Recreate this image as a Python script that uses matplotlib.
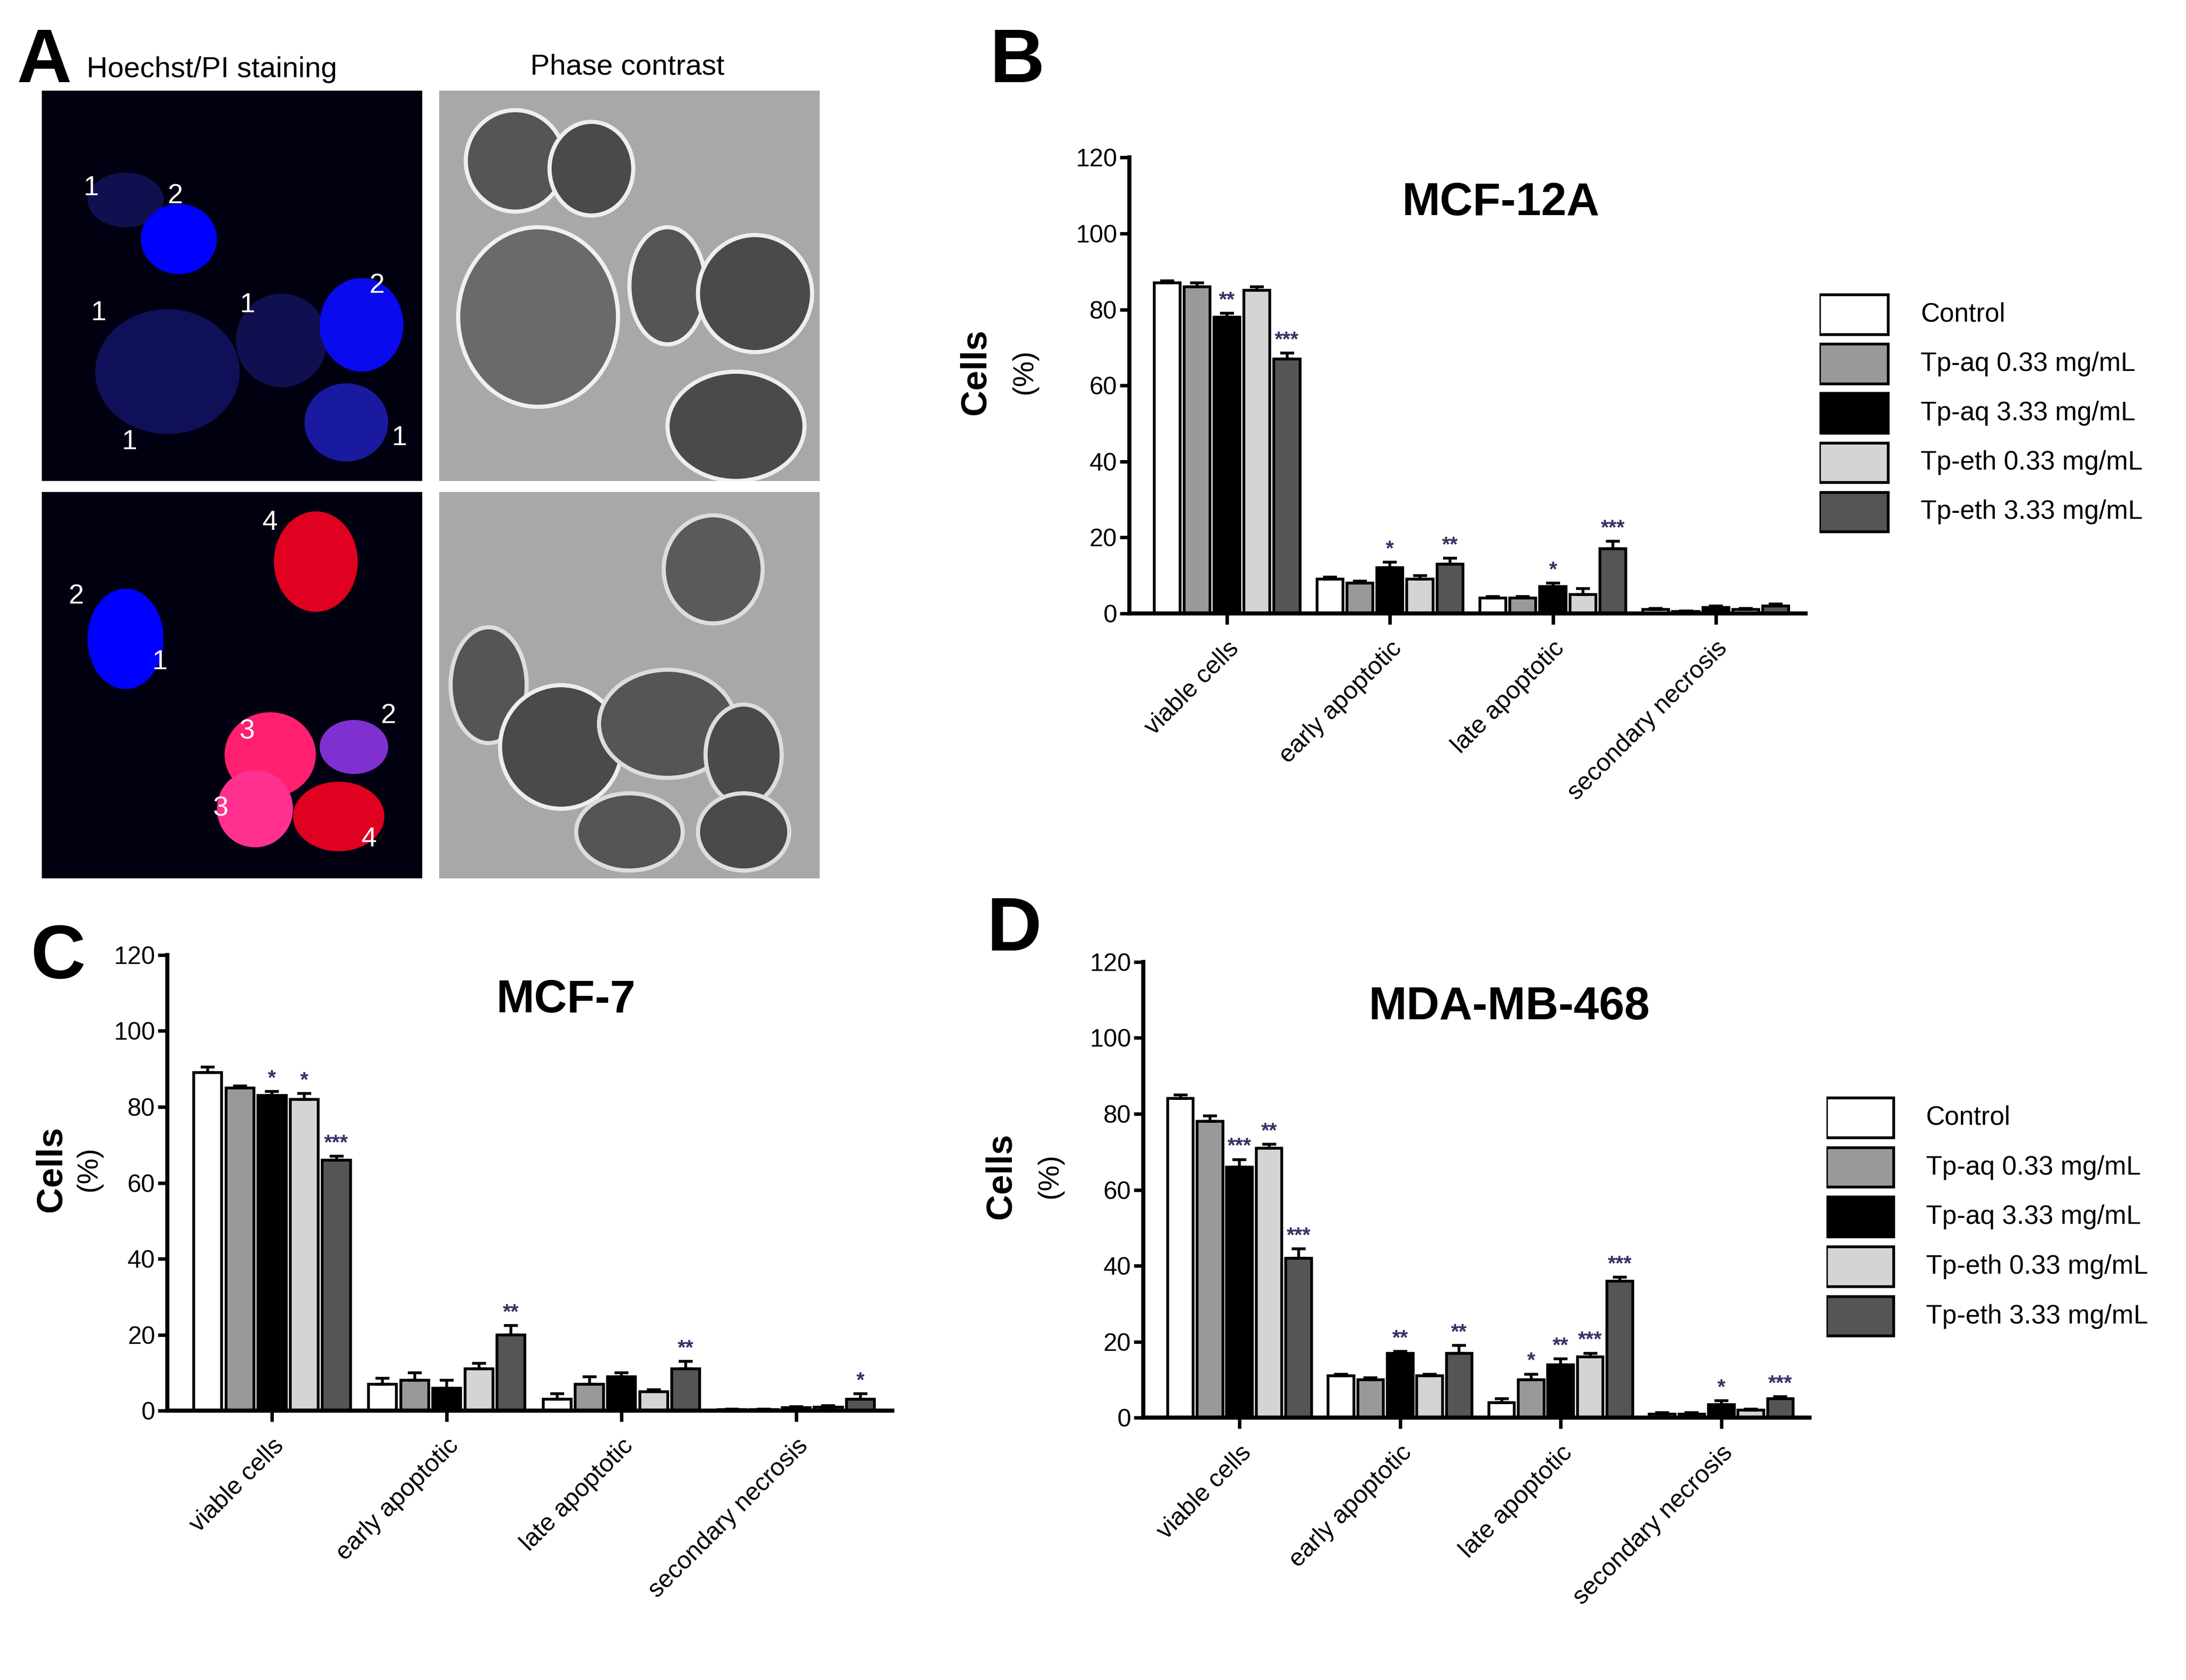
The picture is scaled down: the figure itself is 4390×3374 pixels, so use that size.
import matplotlib
matplotlib.use("Agg")
import matplotlib.pyplot as plt
from matplotlib.patches import Ellipse, Rectangle
import numpy as np

plt.rcParams['font.family'] = ['Liberation Sans', 'DejaVu Sans']

categories = ["viable cells", "early apoptotic", "late apoptotic", "secondary necrosis"]
series = ["Control", "Tp-aq 0.33 mg/mL", "Tp-aq 3.33 mg/mL", "Tp-eth 0.33 mg/mL", "Tp-eth 3.33 mg/mL"]
colors = ["#ffffff", "#999999", "#000000", "#d4d4d4", "#555555"]
yticks = [0, 20, 40, 60, 80, 100, 120]

mcf12a = [[87, 9, 4, 1], [86, 8, 4, 0.5], [78, 12, 7, 1.5], [85, 9, 5, 1], [67, 13, 17, 2]]
mcf12a_err = [[0.5, 0.5, 0.5, 0.3], [1, 0.5, 0.5, 0.2], [1, 1.5, 1, 0.5], [1, 1, 1.5, 0.3], [1.5, 1.5, 2, 0.5]]
mcf12a_sig = [["", "", "", ""], ["", "", "", ""], ["**", "*", "*", ""], ["", "", "", ""], ["***", "**", "***", ""]]

mcf7 = [[89, 7, 3, 0.3], [85, 8, 7, 0.3], [83, 6, 9, 0.8], [82, 11, 5, 1], [66, 20, 11, 3]]
mcf7_err = [[1.5, 1.5, 1.5, 0.2], [0.5, 2, 2, 0.2], [1, 2, 1, 0.3], [1.5, 1.5, 0.5, 0.3], [1, 2.5, 2, 1.5]]
mcf7_sig = [["", "", "", ""], ["", "", "", ""], ["*", "", "", ""], ["*", "", "", ""], ["***", "**", "**", "*"]]

mda = [[84, 11, 4, 1], [78, 10, 10, 1], [66, 17, 14, 3.5], [71, 11, 16, 2], [42, 17, 36, 5]]
mda_err = [[1, 0.5, 1, 0.3], [1.5, 0.5, 1.5, 0.3], [2, 0.5, 1.5, 1], [1, 0.5, 1, 0.3], [2.5, 2, 1, 0.5]]
mda_sig = [["", "", "", ""], ["", "", "*", ""], ["***", "**", "**", "*"], ["**", "", "***", ""], ["***", "**", "***", "***"]]

W, H = 4390, 3374
fig = plt.figure(figsize=(W/100, H/100), dpi=100)

def fr(x0, y0, x1, y1):
    s = 4390/1568
    return [x0*s/W, 1-y1*s/H, (x1-x0)*s/W, (y1-y0)*s/H]

def barpanel(rect, title, vals, errs, sigs, lab_x, legend_rect=None):
    ax = fig.add_axes(rect)
    x = np.arange(len(categories))
    bw = 0.16
    for i in range(len(series)):
        pos = x + (i-2)*bw*1.15
        ax.bar(pos, vals[i], bw, color=colors[i], edgecolor='black', linewidth=4, zorder=2)
        ax.errorbar(pos, vals[i], yerr=[np.zeros(4), errs[i]], fmt='none', ecolor='black',
                    elinewidth=4, capsize=10, capthick=4, zorder=3)
        for j in range(4):
            if sigs[i][j]:
                ax.text(pos[j], vals[i][j]+errs[i][j]+0.8, sigs[i][j], ha='center', va='bottom',
                        fontsize=30, fontweight='bold', color='#333366')
    ax.set_xlim(-0.6, 3.55)
    ax.set_ylim(0, 120)
    ax.set_yticks(yticks)
    ax.set_xticks(x)
    ax.set_xticklabels(categories, rotation=45, ha='right', rotation_mode='anchor', fontsize=36)
    ax.tick_params(axis='y', labelsize=36, width=5, length=14)
    ax.tick_params(axis='x', width=5, length=16, pad=18)
    for s in ['top', 'right']:
        ax.spines[s].set_visible(False)
    for s in ['left', 'bottom']:
        ax.spines[s].set_linewidth(6)
    ax.text(0.55, 0.90, title, transform=ax.transAxes, ha='center', va='center',
            fontsize=66, fontweight='bold')
    ax.text(lab_x[0], 0.53, "Cells", transform=ax.transAxes, rotation=90, ha='center', va='center',
            fontsize=52, fontweight='bold')
    ax.text(lab_x[1], 0.53, "(%)", transform=ax.transAxes, rotation=90, ha='center', va='center',
            fontsize=42)
    if legend_rect is not None:
        lx = fig.add_axes(legend_rect)
        lx.set_axis_off()
        lx.set_xlim(0, 1)
        lx.set_ylim(0, 5)
        for i, name in enumerate(series):
            yy = 4 - i
            lx.add_patch(Rectangle((0.0, yy+0.1), 0.19, 0.8, facecolor=colors[i], edgecolor='black', lw=4))
            lx.text(0.28, yy+0.5, name, va='center', fontsize=38)
    return ax

barpanel(fr(810, 113, 1295, 440), "MCF-12A", mcf12a, mcf12a_err, mcf12a_sig, (-0.227, -0.155), fr(1305, 208, 1565, 385))
barpanel(fr(120, 685, 640, 1012), "MCF-7", mcf7, mcf7_err, mcf7_sig, (-0.16, -0.108))
barpanel(fr(820, 690, 1298, 1017), "MDA-MB-468", mda, mda_err, mda_sig, (-0.213, -0.14), fr(1310, 784, 1565, 962))

# Panel A: schematic micrographs
def micro(rect, bg, cells, labels):
    ax = fig.add_axes(rect)
    ax.set_xlim(0, 1); ax.set_ylim(1, 0)
    ax.set_facecolor(bg)
    ax.set_xticks([]); ax.set_yticks([])
    for sp in ax.spines.values():
        sp.set_visible(False)
    for (cx, cy, w, h, fc, ec) in cells:
        ax.add_patch(Ellipse((cx, cy), w, h, facecolor=fc, edgecolor=ec, lw=6))
    for (tx, ty, t) in labels:
        ax.text(tx, ty, t, color='white', fontsize=40, ha='center', va='center')
    return ax

fluo1 = [(0.22, 0.28, 0.2, 0.14, '#101050', 'none'), (0.36, 0.38, 0.2, 0.18, '#0000ff', 'none'),
         (0.33, 0.72, 0.38, 0.32, '#101058', 'none'), (0.63, 0.64, 0.24, 0.24, '#101050', 'none'),
         (0.84, 0.6, 0.22, 0.24, '#0a0aee', 'none'), (0.8, 0.85, 0.22, 0.2, '#1a1aa0', 'none')]
lab1 = [(0.13, 0.25, '1'), (0.35, 0.27, '2'), (0.15, 0.57, '1'), (0.54, 0.55, '1'), (0.88, 0.5, '2'),
        (0.23, 0.9, '1'), (0.94, 0.89, '1')]
micro(fr(30, 65, 303, 345), '#000010', fluo1, lab1)
fluo2 = [(0.22, 0.38, 0.2, 0.26, '#0000ff', 'none'), (0.72, 0.18, 0.22, 0.26, '#e00020', 'none'),
         (0.6, 0.68, 0.24, 0.22, '#ff2070', 'none'), (0.56, 0.82, 0.2, 0.2, '#ff3090', 'none'),
         (0.82, 0.66, 0.18, 0.14, '#8030d0', 'none'), (0.78, 0.84, 0.24, 0.18, '#e00020', 'none')]
lab2 = [(0.6, 0.08, '4'), (0.09, 0.27, '2'), (0.31, 0.44, '1'), (0.54, 0.62, '3'), (0.91, 0.58, '2'),
        (0.47, 0.82, '3'), (0.86, 0.9, '4')]
micro(fr(30, 353, 303, 630), '#000010', fluo2, lab2)
ph1 = [(0.2, 0.18, 0.26, 0.26, '#555555', '#eeeeee'), (0.4, 0.2, 0.22, 0.24, '#4a4a4a', '#eeeeee'),
       (0.26, 0.58, 0.42, 0.46, '#6a6a6a', '#f0f0f0'), (0.6, 0.5, 0.2, 0.3, '#555555', '#eeeeee'),
       (0.83, 0.52, 0.3, 0.3, '#4a4a4a', '#eeeeee'), (0.78, 0.86, 0.36, 0.28, '#4a4a4a', '#eeeeee')]
micro(fr(315, 65, 588, 345), '#a8a8a8', ph1, [])
ph2 = [(0.72, 0.2, 0.26, 0.28, '#5a5a5a', '#dddddd'), (0.13, 0.5, 0.2, 0.3, '#555555', '#dddddd'),
       (0.32, 0.66, 0.32, 0.32, '#4a4a4a', '#eeeeee'), (0.6, 0.6, 0.36, 0.28, '#555555', '#dddddd'),
       (0.8, 0.68, 0.2, 0.26, '#4a4a4a', '#dddddd'), (0.5, 0.88, 0.28, 0.2, '#555555', '#dddddd'),
       (0.8, 0.88, 0.24, 0.2, '#4a4a4a', '#dddddd')]
micro(fr(315, 353, 588, 630), '#a8a8a8', ph2, [])

s = 4390/1568
def ftext(x, y, t, **kw):
    fig.text(x*s/W, 1-y*s/H, t, **kw)
ftext(12, 45, "A", fontsize=110, fontweight='bold', va='center')
ftext(62, 50, "Hoechst/PI staining", fontsize=42, va='center')
ftext(450, 48, "Phase contrast", fontsize=42, va='center', ha='center')
ftext(710, 45, "B", fontsize=110, fontweight='bold', va='center')
ftext(22, 688, "C", fontsize=110, fontweight='bold', va='center')
ftext(708, 668, "D", fontsize=110, fontweight='bold', va='center')

fig.savefig("out.png", dpi=100, facecolor='white')
